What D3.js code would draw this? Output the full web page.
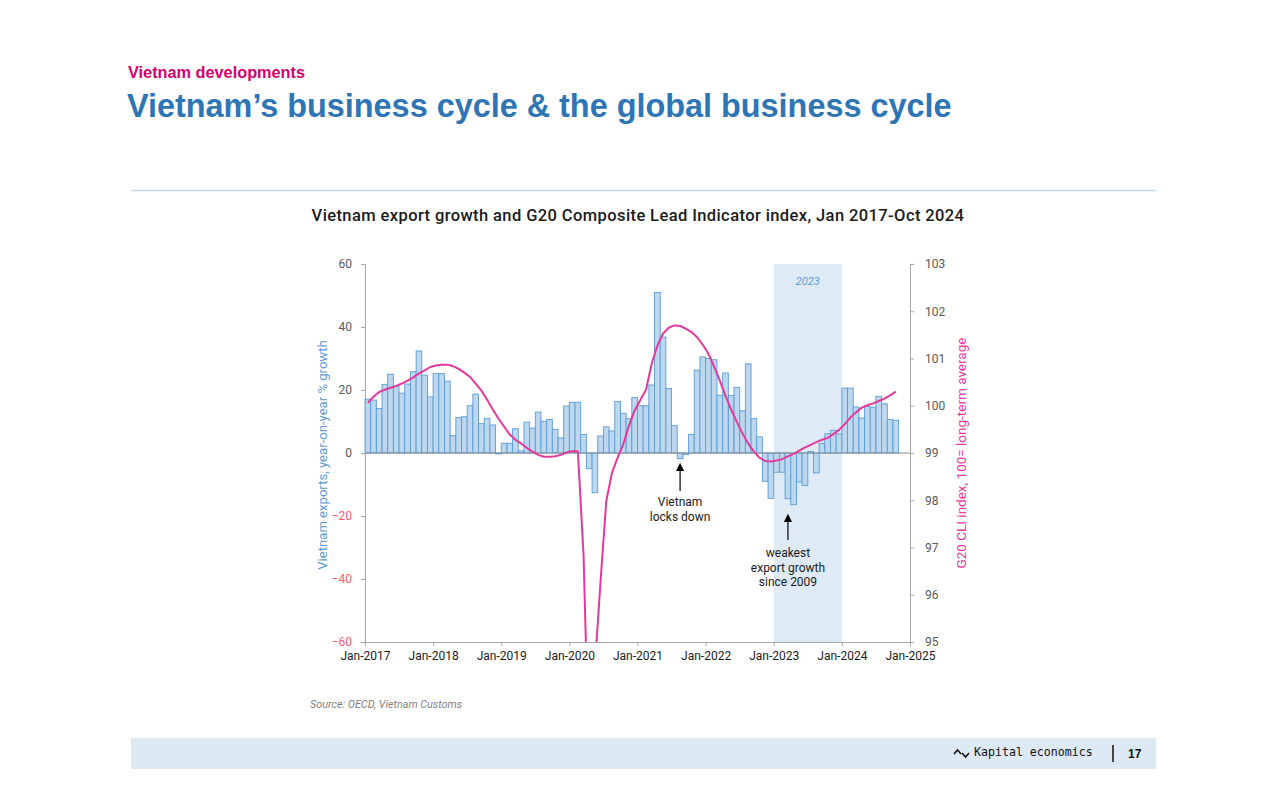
<!DOCTYPE html>
<html>
<head>
<meta charset="utf-8">
<script src="https://cdn.jsdelivr.net/npm/d3@7"></script>
<style>
  html, body { margin: 0; padding: 0; background: #ffffff; }
  svg { display: block; }
</style>
</head>
<body>
<svg id="chart" width="1280" height="800"></svg>
<script>
// ---------------- DATA ----------------
const months = [];
for (let y = 2017; y <= 2024; y++) {
  for (let m = 1; m <= 12; m++) {
    if (y === 2024 && m > 10) break;
    months.push(y + "-" + String(m).padStart(2, "0"));
  }
}

// Vietnam exports, y/y % growth (left axis)
const exportGrowth = [
  // 2017
  17.1, 16.8, 14.1, 21.8, 25.0, 21.2, 19.0, 21.9, 25.8, 32.4, 24.7, 17.8,
  // 2018
  25.2, 25.2, 22.8, 5.5, 11.3, 11.5, 15.0, 18.7, 9.3, 11.0, 8.9, -0.3,
  // 2019
  3.1, 3.1, 7.7, 0.7, 9.8, 7.9, 13.0, 10.1, 10.6, 7.5, 4.8, 14.9,
  // 2020
  16.1, 16.1, 5.9, -5.0, -12.6, 5.4, 8.3, 7.0, 16.4, 12.6, 10.9, 17.6,
  // 2021
  15.0, 15.0, 21.6, 51.0, 36.8, 20.5, 8.7, -1.8, -0.5, 5.9, 26.3, 30.5,
  // 2022
  30.0, 29.6, 18.3, 25.4, 18.3, 20.8, 13.4, 28.3, 10.9, 5.1, -9.0, -14.4,
  // 2023
  -6.1, -6.1, -14.5, -16.4, -9.2, -10.3, 0.5, -6.3, 3.0, 6.1, 7.2, 6.1,
  // 2024
  20.6, 20.6, 14.6, 11.1, 14.8, 14.5, 18.0, 15.6, 10.6, 10.4
];

// G20 Composite Leading Indicator (right axis, 100 = long-term average)
const g20CLI = [
  // 2017
  100.06, 100.19, 100.29, 100.34, 100.38, 100.42, 100.47, 100.53, 100.60, 100.68, 100.75, 100.82,
  // 2018
  100.85, 100.87, 100.87, 100.84, 100.78, 100.70, 100.61, 100.47, 100.32, 100.13, 99.92, 99.73,
  // 2019
  99.56, 99.39, 99.28, 99.20, 99.11, 99.03, 98.96, 98.92, 98.92, 98.93, 98.96, 99.01,
  // 2020
  99.04, 99.03, 96.83, 92.3, 94.5, 96.3, 97.98, 98.58, 98.90, 99.19, 99.58, 99.90,
  // 2021
  100.12, 100.34, 100.89, 101.27, 101.53, 101.65, 101.70, 101.69, 101.63, 101.56, 101.45, 101.29,
  // 2022
  101.10, 100.83, 100.53, 100.21, 99.92, 99.66, 99.41, 99.20, 99.03, 98.90, 98.83, 98.82,
  // 2023
  98.84, 98.87, 98.93, 98.98, 99.05, 99.12, 99.17, 99.23, 99.28, 99.32, 99.40, 99.49,
  // 2024
  99.61, 99.75, 99.86, 99.96, 100.01, 100.05, 100.10, 100.15, 100.22, 100.30
];

const xTickLabels = ["Jan-2017", "Jan-2018", "Jan-2019", "Jan-2020", "Jan-2021",
                     "Jan-2022", "Jan-2023", "Jan-2024", "Jan-2025"];
const leftTicks = [60, 40, 20, 0, -20, -40, -60];
const rightTicks = [103, 102, 101, 100, 99, 98, 97, 96, 95];
const highlightYear = "2023";

// ---------------- LAYOUT ----------------
const svg = d3.select("#chart");
const plot = { left: 365, right: 910, top: 264, bottom: 642 };

const x = d3.scaleLinear().domain([0, 96]).range([plot.left, plot.right]);
const yL = d3.scaleLinear().domain([-60, 60]).range([plot.bottom, plot.top]);
const yR = d3.scaleLinear().domain([95, 103]).range([plot.bottom, plot.top]);

const BLUE_TXT = "#5b9bd5";
const PINK = "#e3399c";
const AXIS = "#a6a6a6";

// Header
svg.append("text").attr("x", 128).attr("y", 78)
  .attr("font-family", "Liberation Sans, Arial, sans-serif").attr("font-weight", "bold")
  .attr("font-size", 16.3).attr("fill", "#d4006f").text("Vietnam developments");
svg.append("text").attr("x", 127).attr("y", 117)
  .attr("font-family", "Liberation Sans, Arial, sans-serif").attr("font-weight", "bold")
  .attr("font-size", 32.4).attr("fill", "#2e75b6")
  .text("Vietnam\u2019s business cycle & the global business cycle");
svg.append("line").attr("x1", 131).attr("x2", 1156).attr("y1", 190.5).attr("y2", 190.5)
  .attr("stroke", "#c9dcef").attr("stroke-width", 1.5);

// Chart title
svg.append("text").attr("x", 638).attr("y", 221).attr("text-anchor", "middle")
  .attr("font-family", "Roboto, sans-serif").attr("font-weight", 500)
  .attr("font-size", 16.5).attr("letter-spacing", 0.4).attr("fill", "#1a1a1a")
  .text("Vietnam export growth and G20 Composite Lead Indicator index, Jan 2017-Oct 2024");

// 2023 shading
const yr23 = months.indexOf(highlightYear + "-01");
svg.append("rect").attr("x", x(yr23)).attr("y", plot.top)
  .attr("width", x(yr23 + 12) - x(yr23)).attr("height", plot.bottom - plot.top)
  .attr("fill", "#deebf7");
svg.append("text").attr("x", (x(yr23) + x(yr23 + 12)) / 2).attr("y", 285)
  .attr("text-anchor", "middle").attr("font-family", "Roboto, sans-serif")
  .attr("font-style", "italic").attr("font-size", 11).attr("fill", BLUE_TXT)
  .text(highlightYear);

// Bars
svg.append("g").selectAll("rect").data(exportGrowth).join("rect")
  .attr("x", (d, i) => x(i))
  .attr("width", (d, i) => x(i + 1) - x(i))
  .attr("y", d => yL(Math.max(0, d)))
  .attr("height", d => Math.abs(yL(d) - yL(0)))
  .attr("fill", "#bdd7ee")
  .attr("stroke", "#5b9bd5")
  .attr("stroke-width", 0.9);

// Zero line
svg.append("line").attr("x1", plot.left).attr("x2", plot.right)
  .attr("y1", yL(0)).attr("y2", yL(0)).attr("stroke", "#8c8c8c").attr("stroke-width", 1);

// CLI line (clipped to plot)
svg.append("clipPath").attr("id", "clip").append("rect")
  .attr("x", plot.left).attr("y", plot.top)
  .attr("width", plot.right - plot.left).attr("height", plot.bottom - plot.top);
const line = d3.line().x((d, i) => x(i + 0.5)).y(d => yR(d));
svg.append("path").datum(g20CLI).attr("d", line)
  .attr("clip-path", "url(#clip)")
  .attr("fill", "none").attr("stroke", PINK).attr("stroke-width", 2)
  .attr("stroke-linejoin", "round");

// Axes
const axisFont = g => g.selectAll("text").attr("font-family", "Roboto, sans-serif").attr("font-size", 12);

const gL = svg.append("g").attr("transform", `translate(${plot.left},0)`)
  .call(d3.axisLeft(yL).tickValues(leftTicks).tickSize(4).tickPadding(9));
gL.select(".domain").attr("stroke", AXIS);
gL.selectAll(".tick line").attr("stroke", AXIS);
gL.call(axisFont);
gL.selectAll(".tick text").attr("fill", d => d < 0 ? "#f4606a" : "#595959");

const gR = svg.append("g").attr("transform", `translate(${plot.right},0)`)
  .call(d3.axisRight(yR).tickValues(rightTicks).tickSize(4).tickPadding(11));
gR.select(".domain").attr("stroke", AXIS);
gR.selectAll(".tick line").attr("stroke", AXIS);
gR.call(axisFont);
gR.selectAll(".tick text").attr("fill", "#595959");

const gX = svg.append("g").attr("transform", `translate(0,${plot.bottom})`)
  .call(d3.axisBottom(x).tickValues(xTickLabels.map((d, i) => i * 12))
    .tickFormat((d, i) => xTickLabels[i]).tickSize(4).tickPadding(5));
gX.select(".domain").attr("stroke", AXIS);
gX.selectAll(".tick line").attr("stroke", AXIS);
gX.call(axisFont);
gX.selectAll(".tick text").attr("fill", "#1a1a1a");

// Axis titles
svg.append("text").attr("transform", `translate(327,${yL(0) + 2}) rotate(-90)`)
  .attr("text-anchor", "middle").attr("font-family", "Roboto, sans-serif")
  .attr("font-size", 13.1).attr("fill", BLUE_TXT)
  .text("Vietnam exports, year-on-year % growth");
svg.append("text").attr("transform", `translate(966,${yL(0)}) rotate(-90)`)
  .attr("text-anchor", "middle").attr("font-family", "Roboto, sans-serif")
  .attr("font-size", 13.5).attr("fill", PINK)
  .text("G20 CLI index, 100= long-term average");

// Annotations
svg.append("defs").append("marker").attr("id", "arrow").attr("viewBox", "0 0 10 10")
  .attr("refX", 5).attr("refY", 5).attr("markerWidth", 7).attr("markerHeight", 7)
  .attr("orient", "auto-start-reverse")
  .append("path").attr("d", "M0,0 L10,5 L0,10 z").attr("fill", "#000");

function annotate(monthIdx, yTop, yBottom, lines, textY) {
  const ax = x(monthIdx + 0.5);
  svg.append("line").attr("x1", ax).attr("x2", ax).attr("y1", yBottom).attr("y2", yTop + 4)
    .attr("stroke", "#000").attr("stroke-width", 1.2).attr("marker-end", "url(#arrow)");
  const t = svg.append("text").attr("text-anchor", "middle")
    .attr("font-family", "Roboto, sans-serif").attr("font-size", 12).attr("fill", "#1a1a1a");
  lines.forEach((l, i) => t.append("tspan").attr("x", ax).attr("y", textY + i * 14.5).text(l));
}
annotate(months.indexOf("2021-08"), 463, 491, ["Vietnam", "locks down"], 506);
annotate(months.indexOf("2023-03"), 514, 540, ["weakest", "export growth", "since 2009"], 557);

// Source
svg.append("text").attr("x", 310).attr("y", 708)
  .attr("font-family", "Roboto, sans-serif").attr("font-style", "italic")
  .attr("font-size", 10.8).attr("fill", "#7f7f7f").text("Source: OECD, Vietnam Customs");

// Footer
svg.append("rect").attr("x", 131).attr("y", 738).attr("width", 1025).attr("height", 31)
  .attr("fill", "#dde9f5");
svg.append("path").attr("d", "M954,754 L957.5,750 L961,754 M962,753 L965.5,757 L969,753")
  .attr("fill", "none").attr("stroke", "#111").attr("stroke-width", 1.6);
svg.append("text").attr("x", 974).attr("y", 756)
  .attr("font-family", "DejaVu Sans Mono, monospace").attr("font-size", 11.6)
  .attr("fill", "#111").text("Kapital economics");
svg.append("line").attr("x1", 1113).attr("x2", 1113).attr("y1", 745).attr("y2", 762)
  .attr("stroke", "#111").attr("stroke-width", 1.5);
svg.append("text").attr("x", 1128).attr("y", 758)
  .attr("font-family", "Liberation Sans, Arial, sans-serif").attr("font-weight", "bold")
  .attr("font-size", 12).attr("fill", "#111").text("17");
</script>
</body>
</html>
